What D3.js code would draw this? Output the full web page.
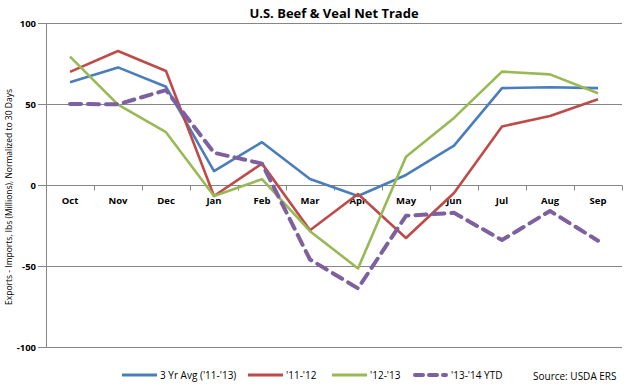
<!DOCTYPE html>
<html>
<head>
<meta charset="utf-8">
<script src="https://cdn.jsdelivr.net/npm/d3@7"></script>
<style>
  body { margin: 0; background: #fff; }
  text { font-family: "Open Sans", "Noto Sans", sans-serif; }
</style>
</head>
<body>
<div id="chart"></div>
<script>
const months = ["Oct", "Nov", "Dec", "Jan", "Feb", "Mar", "Apr", "May", "Jun", "Jul", "Aug", "Sep"];
const avg3yr = [63.4, 72.6, 60.6, 8.6, 26.4, 3.7, -6.8, 6.2, 24.3, 59.8, 60.3, 59.8];
const y1112 = [69.8, 82.7, 70.4, -6.8, 13.2, -27.9, -5.6, -32.7, -4.9, 36.1, 42.6, 52.9];
const y1213 = [79.2, 49.6, 32.6, -6.8, 3.6, -28.5, -51.5, 17.4, 41.4, 70.0, 68.3, 56.6];
const y1314 = [50.0, 49.8, 58.6, 19.9, 13.2, -46.0, -63.8, -19.0, -17.2, -34.0, -16.0, -34.4];
const yTicks = [-100, -50, 0, 50, 100];

const series = [
  { name: "3 Yr Avg ('11-'13)", values: avg3yr, color: "#4a7ebb", width: 2.6, dash: null },
  { name: "'11-'12", values: y1112, color: "#be4b48", width: 2.6, dash: null },
  { name: "'12-'13", values: y1213, color: "#98b954", width: 2.6, dash: null },
  { name: "'13-'14 YTD", values: y1314, color: "#7d60a0", width: 4, dash: "11,7" }
];

const W = 628, H = 388;
const margin = { top: 23, right: 6, bottom: 41, left: 46 };
const width = W - margin.left - margin.right;
const height = H - margin.top - margin.bottom;

const svg = d3.select("#chart").append("svg")
  .attr("width", W)
  .attr("height", H);

svg.append("text")
  .attr("x", margin.left + width / 2)
  .attr("y", 18)
  .attr("text-anchor", "middle")
  .attr("font-size", 13)
  .attr("font-weight", "bold")
  .attr("fill", "#000")
  .text("U.S. Beef & Veal Net Trade");

const g = svg.append("g")
  .attr("transform", `translate(${margin.left},${margin.top})`);

const x = d3.scaleBand().domain(months).range([0, width]);
const y = d3.scaleLinear().domain([-100, 100]).range([height, 0]);

// gridlines
g.selectAll(".grid")
  .data(yTicks)
  .enter().append("line")
  .attr("x1", -8)
  .attr("x2", width)
  .attr("y1", d => Math.round(y(d)) + 0.5)
  .attr("y2", d => Math.round(y(d)) + 0.5)
  .attr("stroke", "#868686")
  .attr("stroke-width", 1);

// left axis
g.append("line")
  .attr("x1", 0.5).attr("x2", 0.5)
  .attr("y1", 0).attr("y2", height)
  .attr("stroke", "#868686");

g.selectAll(".ylab")
  .data(yTicks)
  .enter().append("text")
  .attr("x", -10)
  .attr("y", d => y(d) + 3.5)
  .attr("text-anchor", "end")
  .attr("font-size", 9.5)
  .attr("font-weight", "bold")
  .text(d => d);

// x axis at zero
const xAxis = g.append("g")
  .attr("transform", `translate(0,${Math.round(y(0)) + 0.5})`);
const bounds = months.map(m => x(m)).concat([width]);
xAxis.selectAll("line")
  .data(bounds)
  .enter().append("line")
  .attr("x1", d => Math.round(d) + 0.5)
  .attr("x2", d => Math.round(d) + 0.5)
  .attr("y1", 0).attr("y2", 5)
  .attr("stroke", "#868686");
xAxis.selectAll("text")
  .data(months)
  .enter().append("text")
  .attr("x", d => x(d) + x.bandwidth() / 2)
  .attr("y", 18)
  .attr("text-anchor", "middle")
  .attr("font-size", 9.5)
  .attr("font-weight", "bold")
  .text(d => d);

svg.append("text")
  .attr("transform", "translate(12,197) rotate(-90)")
  .attr("text-anchor", "middle")
  .attr("font-size", 8.5)
  .text("Exports - Imports, lbs (Millions), Normalized to 30 Days");

const line = d3.line()
  .x((d, i) => x(months[i]) + x.bandwidth() / 2)
  .y(d => y(d));

series.forEach(s => {
  g.append("path")
    .datum(s.values)
    .attr("fill", "none")
    .attr("stroke", s.color)
    .attr("stroke-width", s.width)
    .attr("stroke-linejoin", "round")
    .attr("stroke-linecap", s.dash ? "round" : "butt")
    .attr("stroke-dasharray", s.dash)
    .attr("d", line);
});

// legend
const legendX = [122, 248, 332, 413];
const legend = svg.append("g").attr("transform", "translate(0,375)");
series.forEach((s, i) => {
  legend.append("line")
    .attr("x1", legendX[i] + (s.dash ? 2 : 0)).attr("x2", legendX[i] + (s.dash ? 33 : 35))
    .attr("y1", 0).attr("y2", 0)
    .attr("stroke", s.color)
    .attr("stroke-width", s.dash ? 4 : 3)
    .attr("stroke-linecap", s.dash ? "round" : "butt")
    .attr("stroke-dasharray", s.dash ? "8,6" : null);
  legend.append("text")
    .attr("x", legendX[i] + 38)
    .attr("y", 3.5)
    .attr("font-size", 10)
    .text(s.name);
});

svg.append("text")
  .attr("x", 533)
  .attr("y", 380)
  .attr("font-size", 10)
  .text("Source: USDA ERS");
</script>
</body>
</html>
